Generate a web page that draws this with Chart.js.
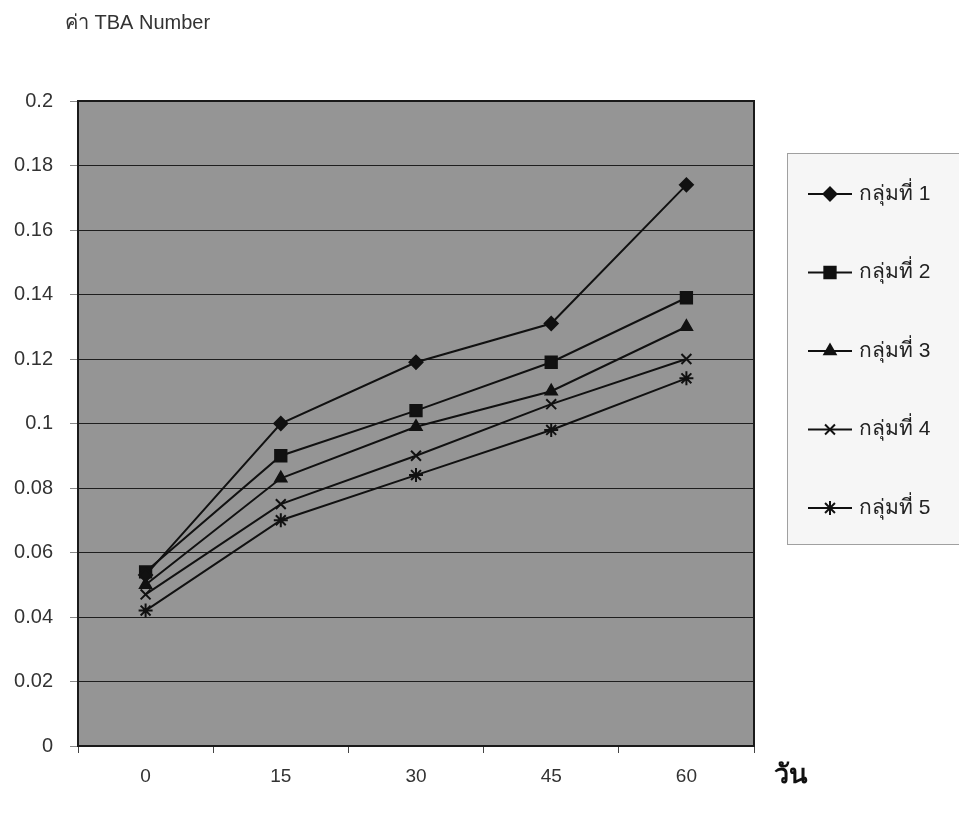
<!DOCTYPE html>
<html>
<head>
<meta charset="utf-8">
<script src="https://cdn.jsdelivr.net/npm/chart.js@4"></script>
<style>
    body { margin: 0; background: #fff; }
    #wrap { position: relative; width: 959px; height: 820px; }
</style>
</head>
<body>
<div id="wrap"><canvas id="tbaChart" width="959" height="820"></canvas></div>
<script>
const days = ["0", "15", "30", "45", "60"];
const groupNames = ["กลุ่มที่ 1", "กลุ่มที่ 2", "กลุ่มที่ 3", "กลุ่มที่ 4", "กลุ่มที่ 5"];
const group1 = [0.053, 0.100, 0.119, 0.131, 0.174];
const group2 = [0.054, 0.090, 0.104, 0.119, 0.139];
const group3 = [0.050, 0.083, 0.099, 0.110, 0.130];
const group4 = [0.047, 0.075, 0.090, 0.106, 0.120];
const group5 = [0.042, 0.070, 0.084, 0.098, 0.114];
const markers = ["rectRot", "rect", "triangle", "crossRot", "star"];
const markerSizes = [6.5, 8, 6.5, 7, 7];

const FONT = "'Liberation Sans', Arial, sans-serif";

// grey plot background + dark frame, like the old Excel chart
const plotFrame = {
    id: "plotFrame",
    beforeDraw(chart) {
        const { ctx, chartArea: a } = chart;
        ctx.save();
        ctx.fillStyle = "#959595";
        ctx.fillRect(a.left, a.top, a.right - a.left, a.bottom - a.top);
        ctx.restore();
    },
    beforeDatasetsDraw(chart) {
        const { ctx, chartArea: a } = chart;
        ctx.save();
        ctx.strokeStyle = "#1a1a1a";
        ctx.lineWidth = 2;
        ctx.strokeRect(a.left, a.top, a.right - a.left, a.bottom - a.top);
        ctx.restore();
    },
    afterDraw(chart) {
        const { ctx } = chart;
        ctx.save();
        ctx.fillStyle = "#333";
        ctx.font = "20px " + FONT;
        ctx.textBaseline = "middle";
        ctx.fillText("ค่า TBA Number", 65, 23);
        ctx.fillStyle = "#111";
        ctx.font = "bold 27px 'DejaVu Serif', serif";
        ctx.fillText("วัน", 774, 776);
        ctx.restore();
    },
};

// legend box on the right with line + marker
const sideLegend = {
    id: "sideLegend",
    afterDraw(chart) {
        const { ctx } = chart;
        ctx.save();
        ctx.fillStyle = "#f6f6f6";
        ctx.fillRect(787, 153, 172, 392);
        ctx.strokeStyle = "#a0a0a0";
        ctx.lineWidth = 1;
        ctx.strokeRect(787.5, 153.5, 175, 391);
        chart.data.datasets.forEach((ds, i) => {
            const y = 194 + i * 78.5;
            ctx.strokeStyle = "#111";
            ctx.lineWidth = 2;
            ctx.beginPath();
            ctx.moveTo(808, y);
            ctx.lineTo(852, y);
            ctx.stroke();
            ctx.fillStyle = "#111";
            ctx.lineWidth = 2;
            Chart.helpers.drawPoint(ctx, { pointStyle: ds.pointStyle, radius: ds.pointRadius, borderWidth: 2 }, 830, y);
            ctx.fillStyle = "#222";
            ctx.font = "21px " + FONT;
            ctx.textBaseline = "middle";
            ctx.fillText(ds.label, 859, y);
        });
        ctx.restore();
    },
};

const seriesValues = [group1, group2, group3, group4, group5];

new Chart(document.getElementById("tbaChart"), {
    type: "line",
    data: {
        labels: days,
        datasets: seriesValues.map((vals, i) => ({
            label: groupNames[i],
            data: vals,
            borderColor: "#111",
            backgroundColor: "#111",
            borderWidth: 2,
            pointStyle: markers[i],
            pointRadius: markerSizes[i],
            pointBorderWidth: 2,
            pointBorderColor: "#111",
            pointBackgroundColor: "#111",
            tension: 0,
        })),
    },
    options: {
        responsive: false,
        animation: false,
        layout: { padding: { top: 101, right: 205, left: 0, bottom: 0 } },
        plugins: {
            legend: { display: false },
            tooltip: { enabled: false },
        },
        scales: {
            x: {
                offset: true,
                grid: { offset: true, drawOnChartArea: false, drawTicks: true, tickLength: 7, color: "#444" },
                border: { display: false },
                ticks: { color: "#333", font: { size: 19, family: FONT }, padding: 12 },
                afterFit(scale) { scale.height = 74; },
            },
            y: {
                min: 0,
                max: 0.2,
                ticks: {
                    stepSize: 0.02,
                    color: "#333",
                    font: { size: 20, family: FONT },
                    padding: 17,
                    callback: (v) => +v.toFixed(2),
                },
                grid: { color: "#1e1e1e", lineWidth: 1, tickLength: 8, tickColor: "#888" },
                border: { display: false },
                afterFit(scale) { scale.width = 78; },
            },
        },
    },
    plugins: [plotFrame, sideLegend],
});
</script>
</body>
</html>
